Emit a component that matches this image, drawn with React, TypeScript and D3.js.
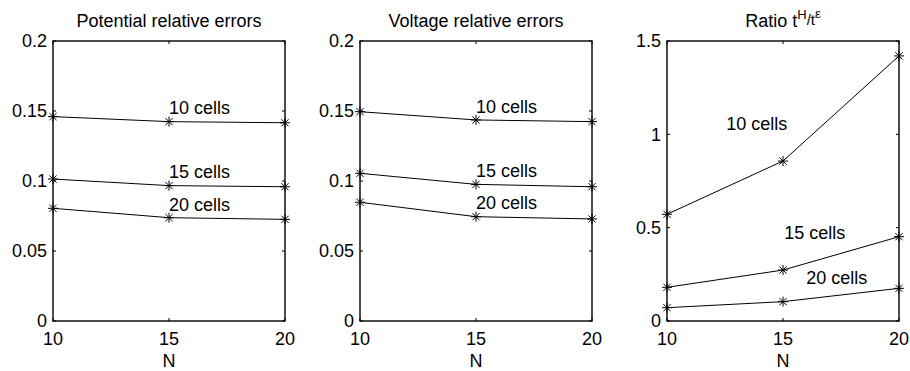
import React from "react";
import * as d3 from "d3";

const nValues = [10, 15, 20];
const xTicks = [10, 15, 20];

const potential10 = [0.146, 0.1424, 0.1416];
const potential15 = [0.1014, 0.0967, 0.0959];
const potential20 = [0.0805, 0.0738, 0.0726];

const voltage10 = [0.1495, 0.1436, 0.1424];
const voltage15 = [0.1055, 0.0976, 0.0959];
const voltage20 = [0.0848, 0.0745, 0.0729];

const ratio10 = [0.5716, 0.857, 1.42];
const ratio15 = [0.1805, 0.273, 0.4516];
const ratio20 = [0.0714, 0.1036, 0.175];

const errTicks = [0, 0.05, 0.1, 0.15, 0.2];
const errTickLabels = ["0", "0.05", "0.1", "0.15", "0.2"];
const ratioTicks = [0, 0.5, 1, 1.5];
const ratioTickLabels = ["0", "0.5", "1", "1.5"];

const seriesLabels = ["10 cells", "15 cells", "20 cells"];
const potentialLabelPos = [[15, 0.1525], [15, 0.1068], [15, 0.0829]];
const voltageLabelPos = [[15, 0.153], [15, 0.1074], [15, 0.0845]];
const ratioLabelPos = [[12.55, 1.055], [15.05, 0.473], [16, 0.232]];

const FONT = "'Liberation Sans', Arial, Helvetica, sans-serif";
const FS = 18;

type PanelProps = {
  left: number;
  right: number;
  top: number;
  bottom: number;
  yMax: number;
  yTicks: number[];
  yTickLabels: string[];
  series: number[][];
  labelPos: number[][];
  title: React.ReactNode;
};

function Asterisk({ x, y }: { x: number; y: number }) {
  const r = 5;
  const d = r * 0.72;
  return (
    <path
      d={`M${x - r},${y}L${x + r},${y}M${x},${y - r}L${x},${y + r}M${x - d},${y - d}L${x + d},${y + d}M${x - d},${y + d}L${x + d},${y - d}`}
      stroke="#000"
      strokeWidth={1}
      fill="none"
    />
  );
}

function Panel(p: PanelProps) {
  const x = d3.scaleLinear().domain([10, 20]).range([p.left, p.right]);
  const y = d3.scaleLinear().domain([0, p.yMax]).range([p.bottom, p.top]);
  const line = d3
    .line<number>()
    .x((_, i) => x(nValues[i]))
    .y((v) => y(v));
  const tl = 3;
  const cx = (p.left + p.right) / 2;
  return (
    <g fontFamily={FONT} fontSize={FS} fill="#000">
      {p.series.map((s, i) => (
        <path key={"l" + i} d={line(s) || ""} stroke="#000" strokeWidth={1} fill="none" />
      ))}
      {p.series.map((s, i) =>
        s.map((v, j) => <Asterisk key={"m" + i + "-" + j} x={x(nValues[j])} y={y(v)} />)
      )}
      {p.labelPos.map((lp, i) => (
        <text key={"t" + i} x={x(lp[0])} y={y(lp[1]) + FS * 0.35}>
          {seriesLabels[i]}
        </text>
      ))}
      {/* ticks */}
      {p.yTicks.map((t, i) => (
        <g key={"yt" + i}>
          <line x1={p.left} x2={p.left + tl} y1={y(t)} y2={y(t)} stroke="#000" strokeWidth={1} />
          <line x1={p.right} x2={p.right - tl} y1={y(t)} y2={y(t)} stroke="#000" strokeWidth={1} />
          <text x={p.left - 6} y={y(t) + FS * 0.35} textAnchor="end">
            {p.yTickLabels[i]}
          </text>
        </g>
      ))}
      {xTicks.map((t, i) => (
        <g key={"xt" + i}>
          <line x1={x(t)} x2={x(t)} y1={p.bottom} y2={p.bottom - tl} stroke="#000" strokeWidth={1} />
          <line x1={x(t)} x2={x(t)} y1={p.top} y2={p.top + tl} stroke="#000" strokeWidth={1} />
          <text x={x(t)} y={p.bottom + 24} textAnchor="middle">
            {t}
          </text>
        </g>
      ))}
      <rect
        x={p.left}
        y={p.top}
        width={p.right - p.left}
        height={p.bottom - p.top}
        fill="none"
        stroke="#000"
        strokeWidth={1.4}
      />
      <text x={cx} y={p.bottom + 46} textAnchor="middle">
        N
      </text>
      <text x={cx} y={27} textAnchor="middle">
        {p.title}
      </text>
    </g>
  );
}

export default function App() {
  const top = 41;
  const bottom = 321;
  return (
    <svg
      width={910}
      height={371}
      viewBox="0 0 910 371"
      style={{ position: "absolute", left: 0, top: 0, background: "#fff" }}
    >
      <rect x={0} y={0} width={910} height={371} fill="#fff" />
      <Panel
        left={53}
        right={285}
        top={top}
        bottom={bottom}
        yMax={0.2}
        yTicks={errTicks}
        yTickLabels={errTickLabels}
        series={[potential10, potential15, potential20]}
        labelPos={potentialLabelPos}
        title="Potential relative errors"
      />
      <Panel
        left={360}
        right={592}
        top={top}
        bottom={bottom}
        yMax={0.2}
        yTicks={errTicks}
        yTickLabels={errTickLabels}
        series={[voltage10, voltage15, voltage20]}
        labelPos={voltageLabelPos}
        title="Voltage relative errors"
      />
      <Panel
        left={667}
        right={899}
        top={top}
        bottom={bottom}
        yMax={1.5}
        yTicks={ratioTicks}
        yTickLabels={ratioTickLabels}
        series={[ratio10, ratio15, ratio20]}
        labelPos={ratioLabelPos}
        title={
          <>
            <tspan>Ratio t</tspan>
            <tspan fontSize={13} dy={-8}>H</tspan>
            <tspan fontSize={15} dy={6}>/t</tspan>
            <tspan fontSize={13} dy={-7}>ε</tspan>
          </>
        }
      />
    </svg>
  );
}
